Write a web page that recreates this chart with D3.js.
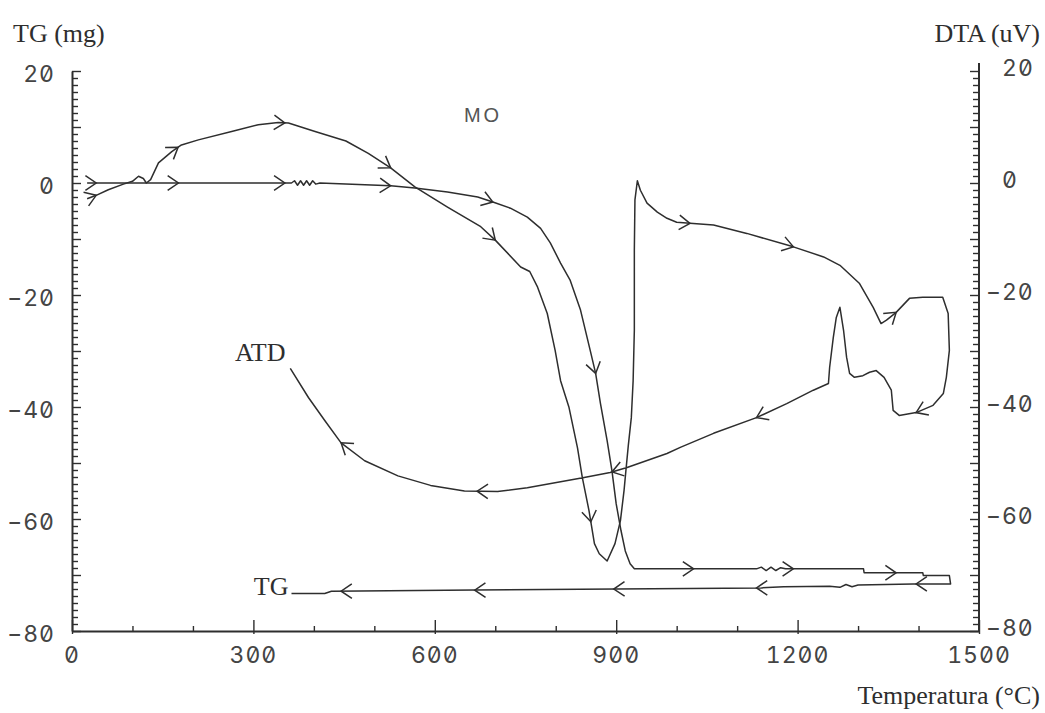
<!DOCTYPE html>
<html><head><meta charset="utf-8">
<script src="https://cdn.jsdelivr.net/npm/d3@7/dist/d3.min.js"></script>
<style>body{margin:0;background:#fff}svg{display:block}
.tick-label{font-family:Inter,"DejaVu Sans Mono",monospace;font-variant-numeric:slashed-zero tabular-nums;font-feature-settings:"zero" 1,"tnum" 1;}</style>
</head><body>
<svg id="c" width="1045" height="713"></svg>
<script>
// ---- data (temperature °C, value) ----
const tgHeating = [[25,0],[176,0],[352,0],[363,0],[368,0.4],[373,-0.4],[378,0.4],[383,-0.4],[388,0.4],[393,-0.4],[398,0.4],[403,-0.2],[410,0],[527,-0.5],[567,-0.9],[621,-1.6],[671,-2.5],[696,-3.4],[725,-4.5],[753,-6.1],[775,-8.1],[791,-10.7],[808,-14.3],[824,-17.4],[841,-22.7],[857,-29.9],[866,-34],[874,-39.4],[885,-46],[893,-51.4],[900,-57.3],[908,-62.1],[915,-65.7],[923,-68],[930,-68.9],[1132,-68.9],[1140,-68.6],[1148,-69.2],[1156,-68.6],[1164,-69.2],[1172,-68.7],[1180,-68.9],[1309,-68.9],[1310,-69.6],[1407,-69.6],[1408,-70.1],[1451,-70.1],[1453,-71.6]];
const tgCooling = [[1453,-71.6],[1391,-71.6],[1300,-71.8],[1290,-72.1],[1280,-71.7],[1270,-72.2],[1253,-72.0],[1177,-72.1],[1140,-72.3],[900,-72.5],[666,-72.7],[429,-72.9],[418,-73.3],[363,-73.3]];
const dtaHeating = [[25,-2.8],[40,-2.2],[60,-1.2],[85,-0.2],[100,0.3],[110,1.2],[118,0.8],[123,0],[130,0.6],[143,3.6],[165,5.6],[181,6.8],[209,7.7],[264,9.2],[308,10.4],[341,10.8],[358,10.7],[402,9.2],[453,7.5],[490,5.3],[527,2.7],[567,-0.7],[621,-4.3],[676,-7.8],[700,-10.2],[742,-15],[757,-15.8],[770,-18.6],[786,-23.3],[799,-29.9],[808,-35.3],[822,-40.1],[836,-47.3],[844,-52.6],[855,-58.5],[864,-64.4],[872,-66.2],[885,-67.5],[898,-64.4],[907,-60.3],[913,-54.9],[916,-51.4],[920,-46.9],[925,-41.9],[928,-35.3],[930,-26.3],[930,-12],[931,-3],[935,0.4],[940,-1.3],[951,-3.6],[968,-5.2],[984,-6.3],[1000,-7],[1022,-7.2],[1061,-7.5],[1116,-9],[1193,-11.4],[1243,-13.2],[1270,-14.7],[1302,-17.9],[1325,-22.2],[1338,-25.1],[1347,-24.5],[1363,-23.1],[1385,-20.6],[1407,-20.4],[1440,-20.4],[1449,-23.3],[1451,-29.9]];
const dtaCooling = [[1451,-29.9],[1446,-34.7],[1441,-37.6],[1424,-39.7],[1396,-41],[1368,-41.5],[1358,-40.6],[1355,-37],[1343,-34.7],[1330,-33.5],[1319,-33.8],[1308,-34.4],[1294,-34.7],[1286,-34],[1281,-31.1],[1276,-26.3],[1270,-22.2],[1264,-24],[1259,-27.6],[1253,-32.9],[1251,-35.8],[1226,-37],[1182,-39.4],[1132,-41.9],[1061,-44.7],[1006,-47.2],[984,-48.3],[918,-50.8],[890,-51.7],[847,-52.6],[753,-54.4],[704,-55.1],[649,-55],[593,-54],[539,-52.3],[484,-49.6],[445,-46.4],[418,-42.4],[391,-38.3],[361,-33.1]];
const tgArrows = [[40,0],[176,0],[352,0],[527,-0.5],[696,-3.4],[866,-34],[1028,-68.9],[1193,-68.9],[1363,-69.6],[1396,-71.6],[1132,-72.3],[896,-72.5],[666,-72.7],[445,-72.8]];
const dtaArrows = [[40,-2.2],[176,6.3],[352,10.8],[527,2.7],[700,-10.2],[858,-60.5],[1022,-7.2],[1193,-11.4],[1363,-23.1],[1396,-41],[1132,-41.9],[893,-51.6],[670,-55],[445,-46.4]];
const xTickLabels = [0,300,600,900,1200,1500];
const yTickLabels = [20,0,-20,-40,-60,-80];
const annotations = [{text:"ATD",t:353,v:-31.8},{text:"TG",t:358,v:-73.6}];

// ---- scales ----
const x = d3.scaleLinear().domain([0,1500]).range([72,979]);
const y = d3.scaleLinear().domain([-80,20]).range([631,71]);
const ink = "#2e2e2e";
const svg = d3.select("#c");

// axes
const minorY = d3.range(-80, 20.01, 1.25);
const gl = svg.append("g").attr("transform",`translate(${x(0)},0)`)
  .call(d3.axisLeft(y).tickValues(minorY).tickSizeInner(-6).tickSizeOuter(0).tickFormat(""));
const gr = svg.append("g").attr("transform",`translate(${x(1500)},0)`)
  .call(d3.axisRight(y).tickValues(minorY).tickSizeInner(-6).tickSizeOuter(0).tickFormat(""));
const gb = svg.append("g").attr("transform",`translate(0,${y(-80)})`)
  .call(d3.axisBottom(x).tickValues(d3.range(0,1501,100)).tickSizeInner(-5).tickSizeOuter(0).tickFormat(""));
gb.selectAll(".tick line").filter(d=>d%300===0).attr("y1",3).attr("y2",-11);
[gl,gr].forEach(g=>g.selectAll(".tick line").filter(d=>d%10===0).attr("x2", g===gl?9:-9));
[gl,gr,gb].forEach(g=>{
  g.select(".domain").attr("stroke",ink).attr("stroke-width",2);
  g.selectAll(".tick line").attr("stroke",ink).attr("stroke-width",1.4);
});
gr.select(".domain").attr("d",`M0,${y(20)-8}V${y(-80)}`);

const fmt = d => d < 0 ? "\u2212" + Math.abs(d) : String(d);
// left labels
svg.append("g").selectAll("text").data(yTickLabels).join("text").attr("class","tick-label")
  .attr("x",55).attr("y",d=>y(d)+3+8.4).attr("text-anchor","end")
  .attr("font-size",23).attr("letter-spacing",1).attr("fill","#444").text(fmt);
// right labels
svg.append("g").selectAll("text").data(yTickLabels).join("text").attr("class","tick-label")
  .attr("x",d=>d<0?986:1002).attr("y",d=>y(d)-3+8.4).attr("text-anchor","start")
  .attr("font-size",23).attr("letter-spacing",1).attr("fill","#444").text(fmt);
// bottom labels
svg.append("g").selectAll("text").data(xTickLabels).join("text").attr("class","tick-label")
  .attr("x",d=>x(d)).attr("y",663).attr("text-anchor","middle")
  .attr("font-size",23).attr("letter-spacing",1).attr("fill","#444").text(fmt);

// titles
const serif = "Liberation Serif";
svg.append("text").attr("x",13).attr("y",42).attr("font-family",serif).attr("font-size",26).attr("fill",ink).text("TG (mg)");
svg.append("text").attr("x",1040).attr("y",42).attr("text-anchor","end").attr("font-family",serif).attr("font-size",26).attr("fill",ink).text("DTA (uV)");
svg.append("text").attr("x",1040).attr("y",704).attr("text-anchor","end").attr("font-family",serif).attr("font-size",26).attr("fill",ink).text("Temperatura (°C)");
svg.append("text").attr("x",483).attr("y",122).attr("text-anchor","middle").attr("font-family","Liberation Sans").attr("font-size",20).attr("letter-spacing",3).attr("fill","#555").text("MO");
svg.append("g").selectAll("text").data(annotations).join("text")
  .attr("x",d=>x(d.t)).attr("y",d=>y(d.v)).attr("text-anchor","end")
  .attr("font-family",serif).attr("font-size",26).attr("fill",ink).text(d=>d.text);

// curves
const line = d3.line().x(d=>x(d[0])).y(d=>y(d[1]));
const tg = tgHeating.concat(tgCooling.slice(1));
const dta = dtaHeating.concat(dtaCooling.slice(1));
[tg,dta].forEach(s=>svg.append("path").attr("d",line(s)).attr("fill","none")
  .attr("stroke",ink).attr("stroke-width",1.5).attr("stroke-linejoin","round"));

// arrows along the curve direction
function placeArrow(series, t, v){
  const px=x(t), py=y(v); let best=null;
  for(let i=0;i<series.length-1;i++){
    const ax=x(series[i][0]), ay=y(series[i][1]), bx=x(series[i+1][0]), by=y(series[i+1][1]);
    const dx=bx-ax, dy=by-ay, L2=dx*dx+dy*dy; if(L2===0) continue;
    let u=((px-ax)*dx+(py-ay)*dy)/L2; u=Math.max(0,Math.min(1,u));
    const qx=ax+u*dx, qy=ay+u*dy, d=(qx-px)**2+(qy-py)**2;
    if(!best||d<best.d) best={d,qx,qy,a:Math.atan2(dy,dx)};
  }
  return best;
}
const L=13, phi=34*Math.PI/180;
function drawArrows(series, arr){
  arr.forEach(([t,v])=>{
    const b=placeArrow(series,t,v);
    const p1=[b.qx-L*Math.cos(b.a-phi), b.qy-L*Math.sin(b.a-phi)];
    const p2=[b.qx-L*Math.cos(b.a+phi), b.qy-L*Math.sin(b.a+phi)];
    svg.append("path").attr("d",`M${p1}L${b.qx},${b.qy}L${p2}`).attr("fill","none")
      .attr("stroke",ink).attr("stroke-width",1.5).attr("stroke-linejoin","miter");
  });
}
drawArrows(tg,tgArrows);
drawArrows(dta,dtaArrows);
</script>
</body></html>
